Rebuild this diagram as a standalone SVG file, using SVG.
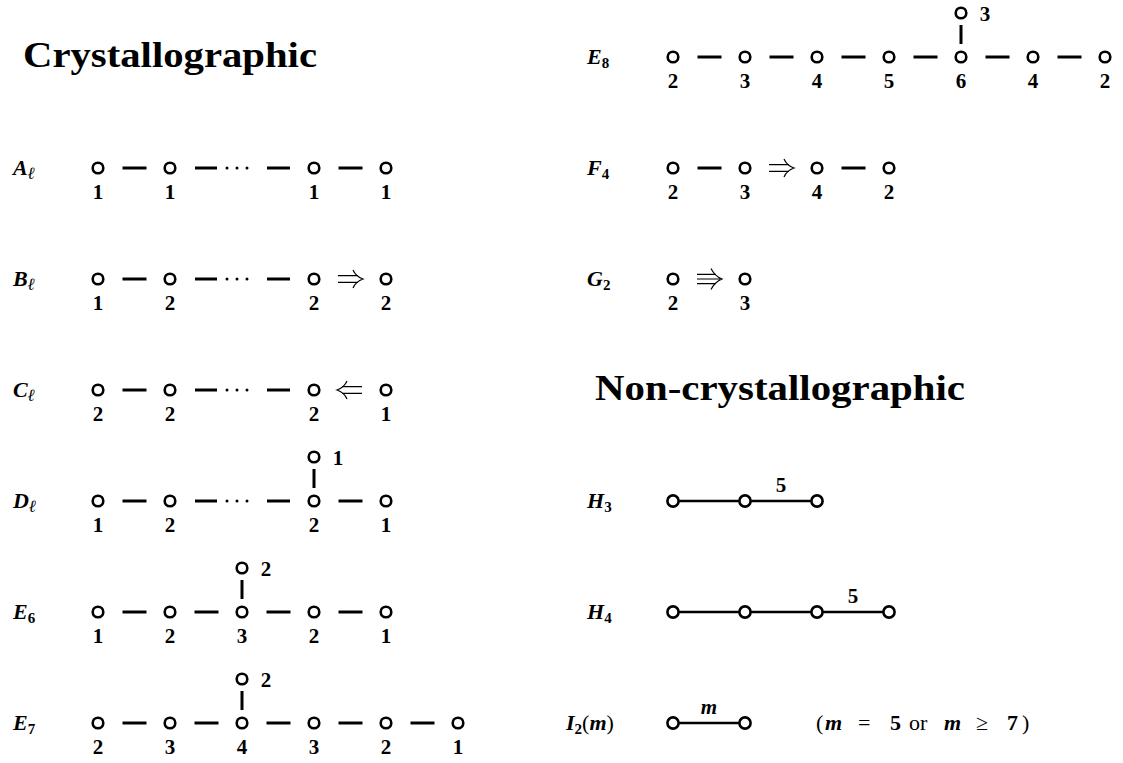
<svg xmlns="http://www.w3.org/2000/svg" xmlns:xlink="http://www.w3.org/1999/xlink" width="1123" height="763" viewBox="0 0 1123 763">
<style>
.node{fill:#fff;stroke:#000;stroke-width:2.6}
.edge{stroke:#000;stroke-width:3;fill:none}
.line{stroke:#000;stroke-width:2.4;fill:none}
.arr{stroke:#000;stroke-width:1.2;fill:none}
.dot{fill:#000}
.num{font-family:"Liberation Serif","DejaVu Serif",serif;font-weight:bold;font-size:21px;text-anchor:middle;fill:#000}
.lab{font-family:"Liberation Serif","DejaVu Serif",serif;font-weight:bold;font-style:italic;font-size:22px;fill:#000}
.sub{font-size:15px;font-style:normal}
.subi{font-size:17px}
.rm{font-style:normal;font-weight:normal}
.title{font-family:"Liberation Serif","DejaVu Serif",serif;font-weight:bold;font-size:36px;fill:#000}
</style>
<defs>
<path id="dblR" class="arr" d="M-12,-3.4H8M-12,3.4H8M3,-9C5,-4.5 8.5,-1.5 13,0C8.5,1.5 5,4.5 3,9"/>
<path id="dblL" class="arr" d="M12,-3.4H-8M12,3.4H-8M-3,-9C-5,-4.5 -8.5,-1.5 -13,0C-8.5,1.5 -5,4.5 -3,9"/>
<path id="triR" class="arr" d="M-12,-4.6H7M-12,0H11M-12,4.6H7M2,-10.5C4.5,-5.5 8,-2 13,0C8,2 4.5,5.5 2,10.5"/>
<g id="dots"><circle class="dot" cx="0" cy="0" r="1.5"/><circle class="dot" cx="10" cy="0" r="1.5"/><circle class="dot" cx="20" cy="0" r="1.5"/></g>
</defs>

<text class="title" x="23" y="67" textLength="294" lengthAdjust="spacingAndGlyphs">Crystallographic</text>
<text class="title" x="595" y="400" textLength="370" lengthAdjust="spacingAndGlyphs">Non-crystallographic</text>

<!-- row labels -->
<g id="labels">
<text class="lab" x="13" y="175">A<tspan class="subi" dy="4">ℓ</tspan></text>
<text class="lab" x="13" y="286">B<tspan class="subi" dy="4">ℓ</tspan></text>
<text class="lab" x="13" y="397">C<tspan class="subi" dy="4">ℓ</tspan></text>
<text class="lab" x="13" y="508">D<tspan class="subi" dy="4">ℓ</tspan></text>
<text class="lab" x="13" y="619">E<tspan class="sub" dy="4">6</tspan></text>
<text class="lab" x="13" y="730">E<tspan class="sub" dy="4">7</tspan></text>
<text class="lab" x="587" y="64">E<tspan class="sub" dy="4">8</tspan></text>
<text class="lab" x="587" y="175">F<tspan class="sub" dy="4">4</tspan></text>
<text class="lab" x="587" y="286">G<tspan class="sub" dy="4">2</tspan></text>
<text class="lab" x="587" y="508">H<tspan class="sub" dy="4">3</tspan></text>
<text class="lab" x="587" y="619">H<tspan class="sub" dy="4">4</tspan></text>
<text class="lab" x="566" y="730">I<tspan class="sub" dy="4">2</tspan><tspan class="rm" dy="-4">(</tspan>m<tspan class="rm">)</tspan></text>
</g>

<!-- connectors -->
<g id="connectors">
<!-- A -->
<line class="edge" x1="122.5" y1="168" x2="146.5" y2="168"/>
<line class="edge" x1="195" y1="168" x2="217" y2="168"/>
<use href="#dots" x="227" y="168"/>
<line class="edge" x1="267" y1="168" x2="290" y2="168"/>
<line class="edge" x1="338.5" y1="168" x2="362.5" y2="168"/>
<!-- B -->
<line class="edge" x1="122.5" y1="279" x2="146.5" y2="279"/>
<line class="edge" x1="195" y1="279" x2="217" y2="279"/>
<use href="#dots" x="227" y="279"/>
<line class="edge" x1="267" y1="279" x2="290" y2="279"/>
<use href="#dblR" x="350" y="279"/>
<!-- C -->
<line class="edge" x1="122.5" y1="390" x2="146.5" y2="390"/>
<line class="edge" x1="195" y1="390" x2="217" y2="390"/>
<use href="#dots" x="227" y="390"/>
<line class="edge" x1="267" y1="390" x2="290" y2="390"/>
<use href="#dblL" x="350" y="390"/>
<!-- D -->
<line class="edge" x1="122.5" y1="501" x2="146.5" y2="501"/>
<line class="edge" x1="195" y1="501" x2="217" y2="501"/>
<use href="#dots" x="227" y="501"/>
<line class="edge" x1="267" y1="501" x2="290" y2="501"/>
<line class="edge" x1="338.5" y1="501" x2="362.5" y2="501"/>
<line class="edge" x1="314" y1="469" x2="314" y2="488"/>
<!-- E6 -->
<line class="edge" x1="122.5" y1="612" x2="146.5" y2="612"/>
<line class="edge" x1="194.5" y1="612" x2="218.5" y2="612"/>
<line class="edge" x1="266.5" y1="612" x2="290.5" y2="612"/>
<line class="edge" x1="338.5" y1="612" x2="362.5" y2="612"/>
<line class="edge" x1="242" y1="580" x2="242" y2="599"/>
<!-- E7 -->
<line class="edge" x1="122.5" y1="723" x2="146.5" y2="723"/>
<line class="edge" x1="194.5" y1="723" x2="218.5" y2="723"/>
<line class="edge" x1="266.5" y1="723" x2="290.5" y2="723"/>
<line class="edge" x1="338.5" y1="723" x2="362.5" y2="723"/>
<line class="edge" x1="410.5" y1="723" x2="434.5" y2="723"/>
<line class="edge" x1="242" y1="691" x2="242" y2="710"/>
<!-- E8 -->
<line class="edge" x1="697.5" y1="57" x2="721.5" y2="57"/>
<line class="edge" x1="769.5" y1="57" x2="793.5" y2="57"/>
<line class="edge" x1="841.5" y1="57" x2="865.5" y2="57"/>
<line class="edge" x1="913.5" y1="57" x2="937.5" y2="57"/>
<line class="edge" x1="985.5" y1="57" x2="1009.5" y2="57"/>
<line class="edge" x1="1057.5" y1="57" x2="1081.5" y2="57"/>
<line class="edge" x1="961" y1="25" x2="961" y2="44"/>
<!-- F4 -->
<line class="edge" x1="697.5" y1="168" x2="721.5" y2="168"/>
<use href="#dblR" x="781" y="168"/>
<line class="edge" x1="841.5" y1="168" x2="865.5" y2="168"/>
<!-- G2 -->
<use href="#triR" x="709" y="279"/>
<!-- H3 -->
<line class="line" x1="679" y1="501" x2="739" y2="501"/>
<line class="line" x1="751" y1="501" x2="811" y2="501"/>
<text class="num" x="781" y="492">5</text>
<!-- H4 -->
<line class="line" x1="679" y1="612" x2="739" y2="612"/>
<line class="line" x1="751" y1="612" x2="811" y2="612"/>
<line class="line" x1="823" y1="612" x2="883" y2="612"/>
<text class="num" x="853" y="603">5</text>
<!-- I2 -->
<line class="line" x1="679" y1="723" x2="739" y2="723"/>
<text class="num" x="709" y="714" font-style="italic" font-weight="normal" font-size="22">m</text>
</g>

<!-- nodes: A -->
<g id="A1"><circle class="node" cx="98" cy="168" r="5.3"/><text class="num" x="98" y="199">1</text></g>
<g id="A2"><circle class="node" cx="170" cy="168" r="5.3"/><text class="num" x="170" y="199">1</text></g>
<g id="A3"><circle class="node" cx="314" cy="168" r="5.3"/><text class="num" x="314" y="199">1</text></g>
<g id="A4"><circle class="node" cx="386" cy="168" r="5.3"/><text class="num" x="386" y="199">1</text></g>
<!-- B -->
<g id="B1"><circle class="node" cx="98" cy="279" r="5.3"/><text class="num" x="98" y="310">1</text></g>
<g id="B2"><circle class="node" cx="170" cy="279" r="5.3"/><text class="num" x="170" y="310">2</text></g>
<g id="B3"><circle class="node" cx="314" cy="279" r="5.3"/><text class="num" x="314" y="310">2</text></g>
<g id="B4"><circle class="node" cx="386" cy="279" r="5.3"/><text class="num" x="386" y="310">2</text></g>
<!-- C -->
<g id="C1"><circle class="node" cx="98" cy="390" r="5.3"/><text class="num" x="98" y="421">2</text></g>
<g id="C2"><circle class="node" cx="170" cy="390" r="5.3"/><text class="num" x="170" y="421">2</text></g>
<g id="C3"><circle class="node" cx="314" cy="390" r="5.3"/><text class="num" x="314" y="421">2</text></g>
<g id="C4"><circle class="node" cx="386" cy="390" r="5.3"/><text class="num" x="386" y="421">1</text></g>
<!-- D -->
<g id="D1"><circle class="node" cx="98" cy="501" r="5.3"/><text class="num" x="98" y="532">1</text></g>
<g id="D2"><circle class="node" cx="170" cy="501" r="5.3"/><text class="num" x="170" y="532">2</text></g>
<g id="D3"><circle class="node" cx="314" cy="501" r="5.3"/><text class="num" x="314" y="532">2</text></g>
<g id="D4"><circle class="node" cx="386" cy="501" r="5.3"/><text class="num" x="386" y="532">1</text></g>
<g id="D5"><circle class="node" cx="314" cy="457" r="5.3"/><text class="num" x="338" y="465">1</text></g>
<!-- E6 -->
<g id="E6_1"><circle class="node" cx="98" cy="612" r="5.3"/><text class="num" x="98" y="643">1</text></g>
<g id="E6_2"><circle class="node" cx="170" cy="612" r="5.3"/><text class="num" x="170" y="643">2</text></g>
<g id="E6_3"><circle class="node" cx="242" cy="612" r="5.3"/><text class="num" x="242" y="643">3</text></g>
<g id="E6_4"><circle class="node" cx="314" cy="612" r="5.3"/><text class="num" x="314" y="643">2</text></g>
<g id="E6_5"><circle class="node" cx="386" cy="612" r="5.3"/><text class="num" x="386" y="643">1</text></g>
<g id="E6_6"><circle class="node" cx="242" cy="568" r="5.3"/><text class="num" x="266" y="576">2</text></g>
<!-- E7 -->
<g id="E7_1"><circle class="node" cx="98" cy="723" r="5.3"/><text class="num" x="98" y="754">2</text></g>
<g id="E7_2"><circle class="node" cx="170" cy="723" r="5.3"/><text class="num" x="170" y="754">3</text></g>
<g id="E7_3"><circle class="node" cx="242" cy="723" r="5.3"/><text class="num" x="242" y="754">4</text></g>
<g id="E7_4"><circle class="node" cx="314" cy="723" r="5.3"/><text class="num" x="314" y="754">3</text></g>
<g id="E7_5"><circle class="node" cx="386" cy="723" r="5.3"/><text class="num" x="386" y="754">2</text></g>
<g id="E7_6"><circle class="node" cx="458" cy="723" r="5.3"/><text class="num" x="458" y="754">1</text></g>
<g id="E7_7"><circle class="node" cx="242" cy="679" r="5.3"/><text class="num" x="266" y="687">2</text></g>
<!-- E8 -->
<g id="E8_1"><circle class="node" cx="673" cy="57" r="5.3"/><text class="num" x="673" y="88">2</text></g>
<g id="E8_2"><circle class="node" cx="745" cy="57" r="5.3"/><text class="num" x="745" y="88">3</text></g>
<g id="E8_3"><circle class="node" cx="817" cy="57" r="5.3"/><text class="num" x="817" y="88">4</text></g>
<g id="E8_4"><circle class="node" cx="889" cy="57" r="5.3"/><text class="num" x="889" y="88">5</text></g>
<g id="E8_5"><circle class="node" cx="961" cy="57" r="5.3"/><text class="num" x="961" y="88">6</text></g>
<g id="E8_6"><circle class="node" cx="1033" cy="57" r="5.3"/><text class="num" x="1033" y="88">4</text></g>
<g id="E8_7"><circle class="node" cx="1105" cy="57" r="5.3"/><text class="num" x="1105" y="88">2</text></g>
<g id="E8_8"><circle class="node" cx="961" cy="13" r="5.3"/><text class="num" x="985" y="21">3</text></g>
<!-- F4 -->
<g id="F4_1"><circle class="node" cx="673" cy="168" r="5.3"/><text class="num" x="673" y="199">2</text></g>
<g id="F4_2"><circle class="node" cx="745" cy="168" r="5.3"/><text class="num" x="745" y="199">3</text></g>
<g id="F4_3"><circle class="node" cx="817" cy="168" r="5.3"/><text class="num" x="817" y="199">4</text></g>
<g id="F4_4"><circle class="node" cx="889" cy="168" r="5.3"/><text class="num" x="889" y="199">2</text></g>
<!-- G2 -->
<g id="G2_1"><circle class="node" cx="673" cy="279" r="5.3"/><text class="num" x="673" y="310">2</text></g>
<g id="G2_2"><circle class="node" cx="745" cy="279" r="5.3"/><text class="num" x="745" y="310">3</text></g>
<!-- H3 -->
<g id="H3_1"><circle class="node" cx="673" cy="501" r="5.6"/></g>
<g id="H3_2"><circle class="node" cx="745" cy="501" r="5.6"/></g>
<g id="H3_3"><circle class="node" cx="817" cy="501" r="5.6"/></g>
<!-- H4 -->
<g id="H4_1"><circle class="node" cx="673" cy="612" r="5.6"/></g>
<g id="H4_2"><circle class="node" cx="745" cy="612" r="5.6"/></g>
<g id="H4_3"><circle class="node" cx="817" cy="612" r="5.6"/></g>
<g id="H4_4"><circle class="node" cx="889" cy="612" r="5.6"/></g>
<!-- I2 -->
<g id="I2_1"><circle class="node" cx="673" cy="723" r="5.6"/></g>
<g id="I2_2"><circle class="node" cx="745" cy="723" r="5.6"/></g>

<text class="lab" y="730" font-size="22"><tspan class="rm" x="816">(</tspan><tspan x="825">m</tspan><tspan class="rm" x="858">=</tspan><tspan x="890" font-style="normal">5</tspan><tspan class="rm" x="909">or</tspan><tspan x="944">m</tspan><tspan class="rm" x="976">≥</tspan><tspan x="1007" font-style="normal">7</tspan><tspan class="rm" x="1022">)</tspan></text>
</svg>
